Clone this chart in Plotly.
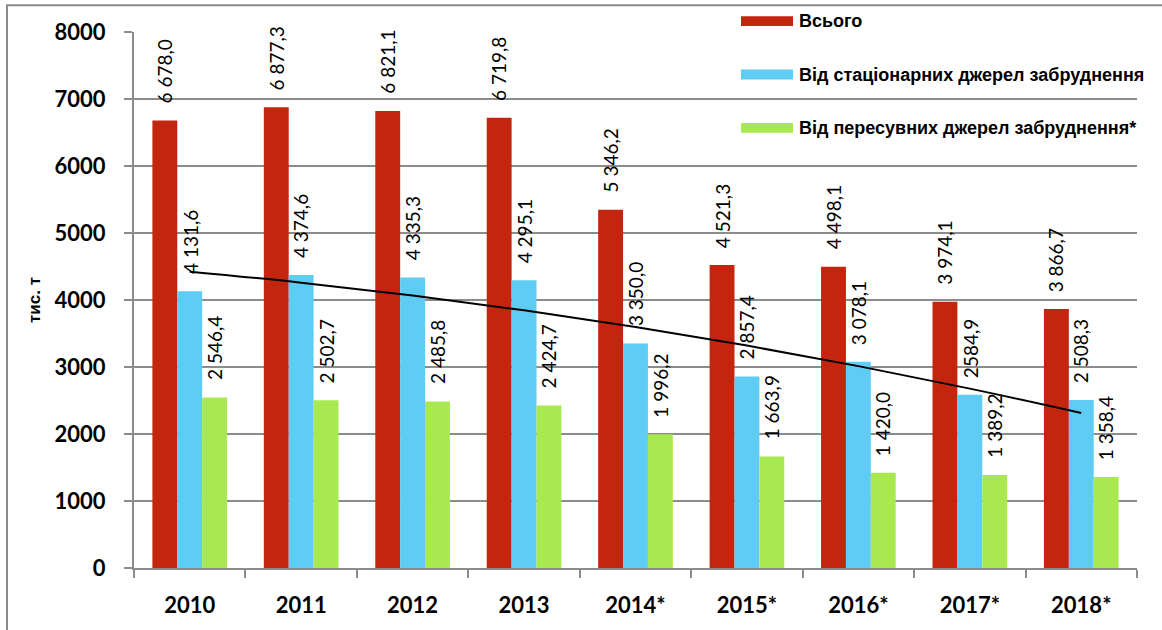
import numpy as np
import plotly.graph_objects as go

years = ["2010", "2011", "2012", "2013", "2014*", "2015*", "2016*", "2017*", "2018*"]
total = [6678.0, 6877.3, 6821.1, 6719.8, 5346.2, 4521.3, 4498.1, 3974.1, 3866.7]
stationary = [4131.6, 4374.6, 4335.3, 4295.1, 3350.0, 2857.4, 3078.1, 2584.9, 2508.3]
mobile = [2546.4, 2502.7, 2485.8, 2424.7, 1996.2, 1663.9, 1420.0, 1389.2, 1358.4]

series_names = ["Всього", "Від стаціонарних джерел забруднення", "Від пересувних джерел забруднення*"]
colors = ["#C3250F", "#5ECCF3", "#A8E951"]
y_ticks = [0, 1000, 2000, 3000, 4000, 5000, 6000, 7000, 8000]
y_title = "тис. т"


def fmt(v, space=True):
    s = f"{v:,.1f}".replace(",", " " if space else "").replace(".", ",")
    return s


# plot area geometry in pixels
W, H = 1162, 630
L, R, T, B = 134, 1137, 32, 574


def px_x(p):
    return (p - L) / (R - L)


def px_y(p):
    return (B - p) / (B - T)


fig = go.Figure()
all_series = [total, stationary, mobile]
for name, vals, col in zip(series_names, all_series, colors):
    fig.add_trace(go.Bar(x=years, y=vals, name=name, marker=dict(color=col, line=dict(width=0)),
                         showlegend=False))

# polynomial (order 2) trend line of the stationary series
idx = np.arange(1, len(years) + 1)
coef = np.polyfit(idx, stationary, 2)
trend = np.polyval(coef, idx)
fig.add_trace(go.Scatter(x=years, y=trend, mode="lines", line=dict(color="black", width=2, shape="spline"),
                         showlegend=False, hoverinfo="skip"))

bargap = 0.33
bw = (1 - bargap) / 3
annotations = []
for s, vals in enumerate(all_series):
    off = (s - 1) * bw
    for i, v in enumerate(vals):
        txt = fmt(v, space=not (s == 1 and years[i] == "2017*"))
        annotations.append(dict(x=i + off, y=v, xref="x", yref="y", text=txt, showarrow=False,
                                textangle=-90, xanchor="center", yanchor="bottom", yshift=15,
                                font=dict(family="Lato", size=19, color="black")))

# y axis title
annotations.append(dict(x=px_x(34), y=px_y(303), xref="paper", yref="paper", text="<b>" + y_title + "</b>",
                        showarrow=False, textangle=-90, xanchor="center", yanchor="middle",
                        font=dict(family="Liberation Sans", size=17, color="black")))

# custom legend
shapes = []
leg_y = [21, 75, 129]
for name, col, yc in zip(series_names, colors, leg_y):
    shapes.append(dict(type="rect", xref="paper", yref="paper", x0=px_x(741), x1=px_x(793),
                       y0=px_y(yc + 5), y1=px_y(yc - 5), fillcolor=col, line=dict(width=0)))
    annotations.append(dict(x=px_x(797), y=px_y(yc), xref="paper", yref="paper", text="<b>" + name + "</b>",
                            showarrow=False, xanchor="left", yanchor="middle",
                            font=dict(family="Liberation Sans", size=18, color="black")))

# outer frame
shapes.append(dict(type="rect", xref="paper", yref="paper", x0=px_x(7), x1=px_x(1180),
                   y0=px_y(640), y1=px_y(5), line=dict(color="#8C8C8C", width=2), fillcolor="rgba(0,0,0,0)",
                   layer="below"))

fig.update_layout(
    width=W, height=H,
    margin=dict(l=L, r=W - R, t=T, b=H - B, pad=0),
    plot_bgcolor="white", paper_bgcolor="white",
    barmode="group", bargap=bargap, bargroupgap=0,
    annotations=annotations, shapes=shapes,
    showlegend=False,
)
fig.update_xaxes(
    type="category", range=[-0.5, len(years) - 0.5],
    showline=True, linecolor="#8C8C8C", linewidth=2,
    ticks="outside", tickson="boundaries", ticklen=8, tickcolor="#8C8C8C", tickwidth=2,
    ticklabelstandoff=17,
    tickfont=dict(family="Lato", size=22, color="black", weight="bold"),
    showgrid=False,
)
fig.update_yaxes(
    range=[0, 8000], tickvals=y_ticks, ticktext=[str(t) for t in y_ticks],
    showline=True, linecolor="#8C8C8C", linewidth=2,
    ticks="outside", ticklen=8, tickcolor="#8C8C8C", tickwidth=2,
    ticklabelstandoff=14,
    showgrid=True, gridcolor="#8C8C8C", gridwidth=1.5,
    zeroline=False,
    tickfont=dict(family="Lato", size=22, color="black", weight="bold"),
)

fig.write_html("out.html", config={"displayModeBar": False},
               post_script="document.body.style.margin='0';document.body.style.overflow='hidden';")
